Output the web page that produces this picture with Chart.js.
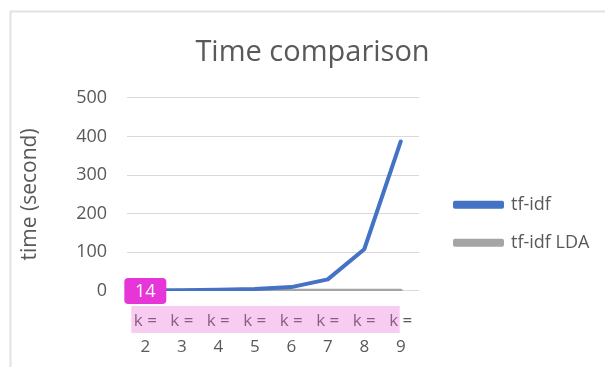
<!DOCTYPE html>
<html>
<head>
<meta charset="utf-8">
<script src="https://cdn.jsdelivr.net/npm/chart.js@4/dist/chart.umd.min.js"></script>
<style>
  html, body { margin: 0; padding: 0; background: #fff; overflow: hidden; }
  #wrap { width: 605px; height: 367px; position: relative; }
</style>
</head>
<body>
<div id="wrap"><canvas id="c" width="605" height="367"></canvas></div>
<script>
// k values of the runs
const kValues = [2, 3, 4, 5, 6, 7, 8, 9];
// two-line category labels
const categories = kValues.map(k => ['k =', String(k)]);
// run time in seconds
const tfidfTimes = [1, 2, 3, 5, 10, 30, 108, 387];
const tfidfLdaTimes = [0.3, 0.3, 0.3, 0.3, 0.3, 0.3, 0.3, 0.3];
const yTicks = [0, 100, 200, 300, 400, 500];
const badgeText = '14';

const FONT = '"Open Sans", "Liberation Sans", sans-serif';
const TEXT = '#595959';
const LEGEND_WIDTH = 176;   // room kept for the legend column
const LEGEND_GAP = 16;      // extra space between plot and legend
const TITLE_SHIFT = 10;     // title sits a little right of the canvas centre

// frame, label highlight and badge; wider legend column
const decor = {
  id: 'decor',
  beforeLayout(chart) {
    const lg = chart.legend;
    if (lg && !lg._wideFit) {
      const fit = lg.fit;
      lg.fit = function () { fit.call(this); this.width = LEGEND_WIDTH; };
      lg._wideFit = true;
    }
  },
  afterLayout(chart) {
    const lg = chart.legend;
    if (lg) { lg.left += LEGEND_GAP; lg.right += LEGEND_GAP; }
    const tb = chart.titleBlock;
    if (tb) { tb.left += TITLE_SHIFT; tb.right += TITLE_SHIFT; }
  },
  beforeDraw(chart) {
    const ctx = chart.ctx;
    ctx.save();
    ctx.strokeStyle = '#E2E2E2';
    ctx.lineWidth = 2;
    ctx.strokeRect(10.5, 11.5, 620, 400);
    ctx.restore();
  },
  afterDraw(chart) {
    const ctx = chart.ctx;
    const x = chart.scales.x, y = chart.scales.y;
    const x0 = x.getPixelForValue(0);
    const xN = x.getPixelForValue(kValues.length - 1);
    const yb = y.getPixelForValue(0);
    ctx.save();
    ctx.fillStyle = 'rgba(235,106,211,0.34)';
    ctx.fillRect(x0 - 14, yb + 15, xN - x0 + 13, 27);
    ctx.fillStyle = '#E636D8';
    const bx = x0 - 21, by = yb - 13, bw = 42, bh = 26;
    ctx.beginPath();
    ctx.roundRect(bx, by, bw, bh, 4);
    ctx.fill();
    ctx.fillStyle = '#fff';
    ctx.font = '18px ' + FONT;
    ctx.textAlign = 'center';
    ctx.textBaseline = 'middle';
    ctx.fillText(badgeText, bx + bw / 2, by + bh / 2 + 1);
    ctx.restore();
  }
};

new Chart(document.getElementById('c'), {
  type: 'line',
  data: {
    labels: categories,
    datasets: [
      { label: 'tf-idf', data: tfidfTimes, borderColor: '#4472C4', backgroundColor: '#4472C4',
        borderWidth: 4, pointRadius: 0, tension: 0, borderCapStyle: 'round', borderJoinStyle: 'round' },
      { label: 'tf-idf LDA', data: tfidfLdaTimes, borderColor: '#A5A5A5', backgroundColor: '#A5A5A5',
        borderWidth: 4, pointRadius: 0, tension: 0, borderCapStyle: 'round', borderJoinStyle: 'round' }
    ]
  },
  options: {
    responsive: false,
    animation: false,
    layout: { padding: { top: 35, left: 10, right: 10, bottom: -10 } },
    plugins: {
      title: {
        display: true, text: 'Time comparison', color: TEXT,
        font: { family: FONT, size: 29, weight: 'normal' }, padding: { top: 0, bottom: 28 }
      },
      legend: {
        position: 'right',
        title: { display: true, text: '', padding: { top: 21, bottom: 0 }, font: { size: 12 } },
        labels: {
          color: TEXT, font: { family: FONT, size: 18 },
          boxWidth: 47, boxHeight: 4, padding: 20
        }
      },
      tooltip: { enabled: false }
    },
    scales: {
      x: {
        offset: true,
        grid: { display: false, drawTicks: false },
        border: { display: false },
        ticks: { color: TEXT, font: { family: FONT, size: 17, lineHeight: 1.53 }, padding: 17, maxRotation: 0 }
      },
      y: {
        min: 0, max: 500,
        afterBuildTicks(axis) { axis.ticks = yTicks.map(v => ({ value: v })); },
        grid: { color: '#D9D9D9', lineWidth: 1, drawTicks: false },
        border: { display: false },
        ticks: { color: TEXT, font: { family: FONT, size: 18 }, padding: 20 },
        title: { display: true, text: 'time (second)', color: TEXT, font: { family: FONT, size: 21 }, padding: { top: 7, bottom: 14 } }
      }
    }
  },
  plugins: [decor]
});
</script>
</body>
</html>
